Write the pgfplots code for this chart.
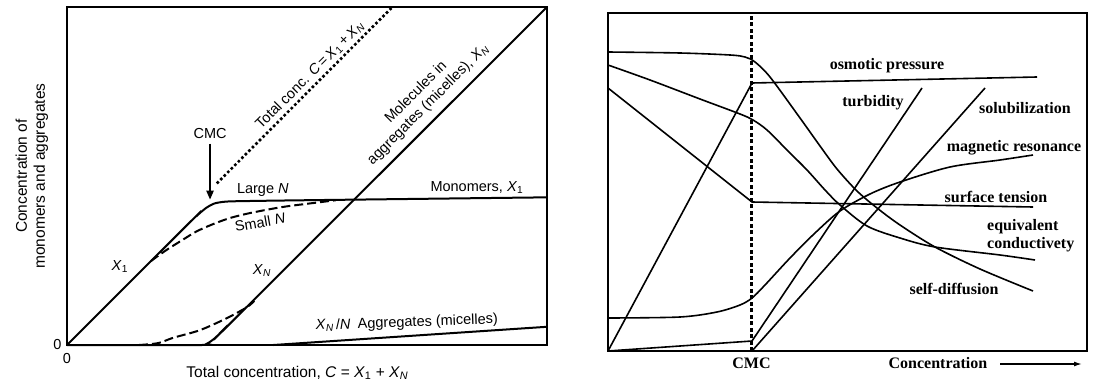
\documentclass[border=0pt]{standalone}
\usepackage{fontspec}
\setmainfont{Liberation Sans}
\newfontfamily\serifbold{Liberation Serif}
\usepackage{pgfplots}
\pgfplotsset{compat=1.18}
\usetikzlibrary{arrows.meta}

\newcommand\lab{\fontsize{14.5bp}{17bp}\selectfont}
\newcommand\axlab{\fontsize{15.5bp}{18bp}\selectfont}
\newcommand\rlab{\serifbold\bfseries\fontsize{16bp}{18bp}\selectfont}
\newcommand\Xs[1]{\textit{X}\textsubscript{#1}}

\tikzset{
  curveL/.style={black, mark=none, line width=2bp},
  curveR/.style={black, mark=none, line width=1.6bp},
  dashedN/.style={dash pattern=on 9bp off 4bp},
}

\begin{document}
\begin{tikzpicture}
% page frame
\path (0bp,0bp) rectangle (1093bp,-388bp);

% ---------------- left: monomers and aggregates ----------------
\begin{axis}[
  at={(67bp,-345bp)}, anchor=south west,
  scale only axis, width=480bp, height=338bp,
  xmin=0, xmax=10, ymin=0, ymax=7.05,
  clip=false,
  axis line style={line width=2bp},
  xtick={0}, ytick={0}, xticklabels={0}, yticklabels={0},
  major tick length=0pt,
  tick label style={font=\lab},
  xticklabel style={yshift=-5bp},
  yticklabel style={xshift=-2bp},
  xlabel={Total concentration, \textit{C} = \Xs{1} + \Xs{\textit{N}}},
  ylabel={Concentration of\\monomers and aggregates},
  xlabel style={font=\axlab, at={(axis description cs:0.48,-0.083)}, anchor=center},
  ylabel style={font=\axlab, at={(axis description cs:-0.073,0.5)}, anchor=center, align=center},
]
% monomers, large N
\addplot[curveL, smooth] coordinates {(0,0)(2.55,2.55)(2.7,2.69)(2.8,2.78)(2.9,2.86)(3.0,2.92)(3.1,2.96)(3.3,2.99)(3.6,3.0)(5,3.02)(10,3.08)};
% aggregated molecules, large N
\addplot[curveL, smooth] coordinates {(0,0)(2.8,0)(2.9,0.02)(3.0,0.08)(3.1,0.16)(3.2,0.26)(3.35,0.41)(3.5,0.55)(10,7.05)};
% monomers, small N
\addplot[curveL, smooth, dashedN] coordinates {(1.75,1.75)(1.87,1.84)(2.1,2.0)(2.42,2.2)(2.7,2.37)(3.04,2.52)(3.4,2.65)(3.85,2.76)(4.5,2.88)(5.2,2.97)(5.6,3.02)};
% aggregated molecules, small N
\addplot[curveL, smooth, dashedN] coordinates {(1.5,0)(1.9,0.04)(2.21,0.15)(2.77,0.31)(3.33,0.56)(3.75,0.79)(3.9,0.92)};
% total concentration
\addplot[curveL, line width=2.6bp, dash pattern=on 2.6bp off 2.4bp] coordinates {(3.12,3.37)(6.78,7.05)};
% aggregates (micelles)
\addplot[curveL] coordinates {(4.3,0)(10,0.38)};

\draw[line width=2bp, -{Triangle[length=9bp,width=7bp]}] (axis cs:2.98,4.2) -- (axis cs:2.98,3.03);
\node[font=\lab] at (axis cs:2.98,4.42) {CMC};
\node[font=\lab, rotate=45] at (axis cs:5.06,5.63) {Total conc. \textit{C}\,=\,\Xs{1}\,+\,\Xs{\textit{N}}};
\node[font=\lab, rotate=45, align=center] at (axis cs:7.40,5.14) {Molecules in\\aggregates (micelles), \Xs{\textit{N}}};
\node[font=\lab] at (axis cs:4.08,3.23) {Large \textit{N}};
\node[font=\lab, rotate=10] at (axis cs:4.02,2.56) {Small \textit{N}};
\node[font=\lab] at (axis cs:1.1,1.63) {\Xs{1}};
\node[font=\lab] at (axis cs:4.06,1.56) {\Xs{\textit{N}}};
\node[font=\lab] at (axis cs:8.54,3.29) {Monomers, \Xs{1}};
\node[font=\lab, rotate=2] at (axis cs:7.08,0.46) {\Xs{\textit{N}}\,/\textit{N}\enspace Aggregates (micelles)};
\end{axis}

% ---------------- right: properties around the CMC ----------------
\begin{axis}[
  at={(608bp,-351bp)}, anchor=south west,
  scale only axis, width=479bp, height=338bp,
  xmin=0, xmax=479, ymin=0, ymax=338,
  clip=false,
  axis line style={line width=1.6bp},
  xtick=\empty, ytick=\empty,
]
% critical micelle concentration
\addplot[curveR, line width=2.2bp, dash pattern=on 4bp off 2.5bp] coordinates {(143.5,0)(143.5,338)};
% osmotic pressure
\addplot[curveR] coordinates {(0,0)(144,268)(429,274)};
% surface tension
\addplot[curveR] coordinates {(0,263)(144,149)(425,144)};
% equivalent conductivity
\addplot[curveR, smooth] coordinates {(0,286)(42,271)(92,252)(132,237)(145,231)(159,221)(179,201)(199,181)(217,161)(232,146)(259,125)(292,113)(327,104)(392,96)(427,91)};
% self-diffusion
\addplot[curveR, smooth] coordinates {(0,299)(72,298)(122,296)(137,294)(147,289)(162,274)(192,233)(212,205)(229,182)(249,160)(269,143)(292,126)(327,104)(372,82)(425,60)};
% magnetic resonance
\addplot[curveR, smooth] coordinates {(0,33)(72,34)(109,39)(132,46)(144,53)(157,66)(182,93)(207,118)(232,140)(262,157)(292,169)(342,184)(392,191)(425,196)};
% turbidity
\addplot[curveR] coordinates {(0,0)(144,10)(314,263)};
% solubilization
\addplot[curveR] coordinates {(144,0)(377,263)};

\node[font=\rlab] at (axis cs:279,285) {osmotic pressure};
\node[font=\rlab] at (axis cs:265,248) {turbidity};
\node[font=\rlab] at (axis cs:417,243) {solubilization};
\node[font=\rlab] at (axis cs:406,203) {magnetic resonance};
\node[font=\rlab] at (axis cs:388,154) {surface tension};
\node[font=\rlab, anchor=west, align=left, inner sep=0pt] at (axis cs:379,115) {equivalent\\conductivety};
\node[font=\rlab] at (axis cs:346,62) {self-diffusion};
\node[font=\rlab] at (axis cs:143.5,-12) {CMC};
\node[font=\rlab] at (axis cs:330,-12) {Concentration};
\draw[line width=1.4bp, -{Latex[length=8bp,width=5bp]}] (axis cs:392,-13) -- (axis cs:474,-13);
\end{axis}
\end{tikzpicture}
\end{document}
